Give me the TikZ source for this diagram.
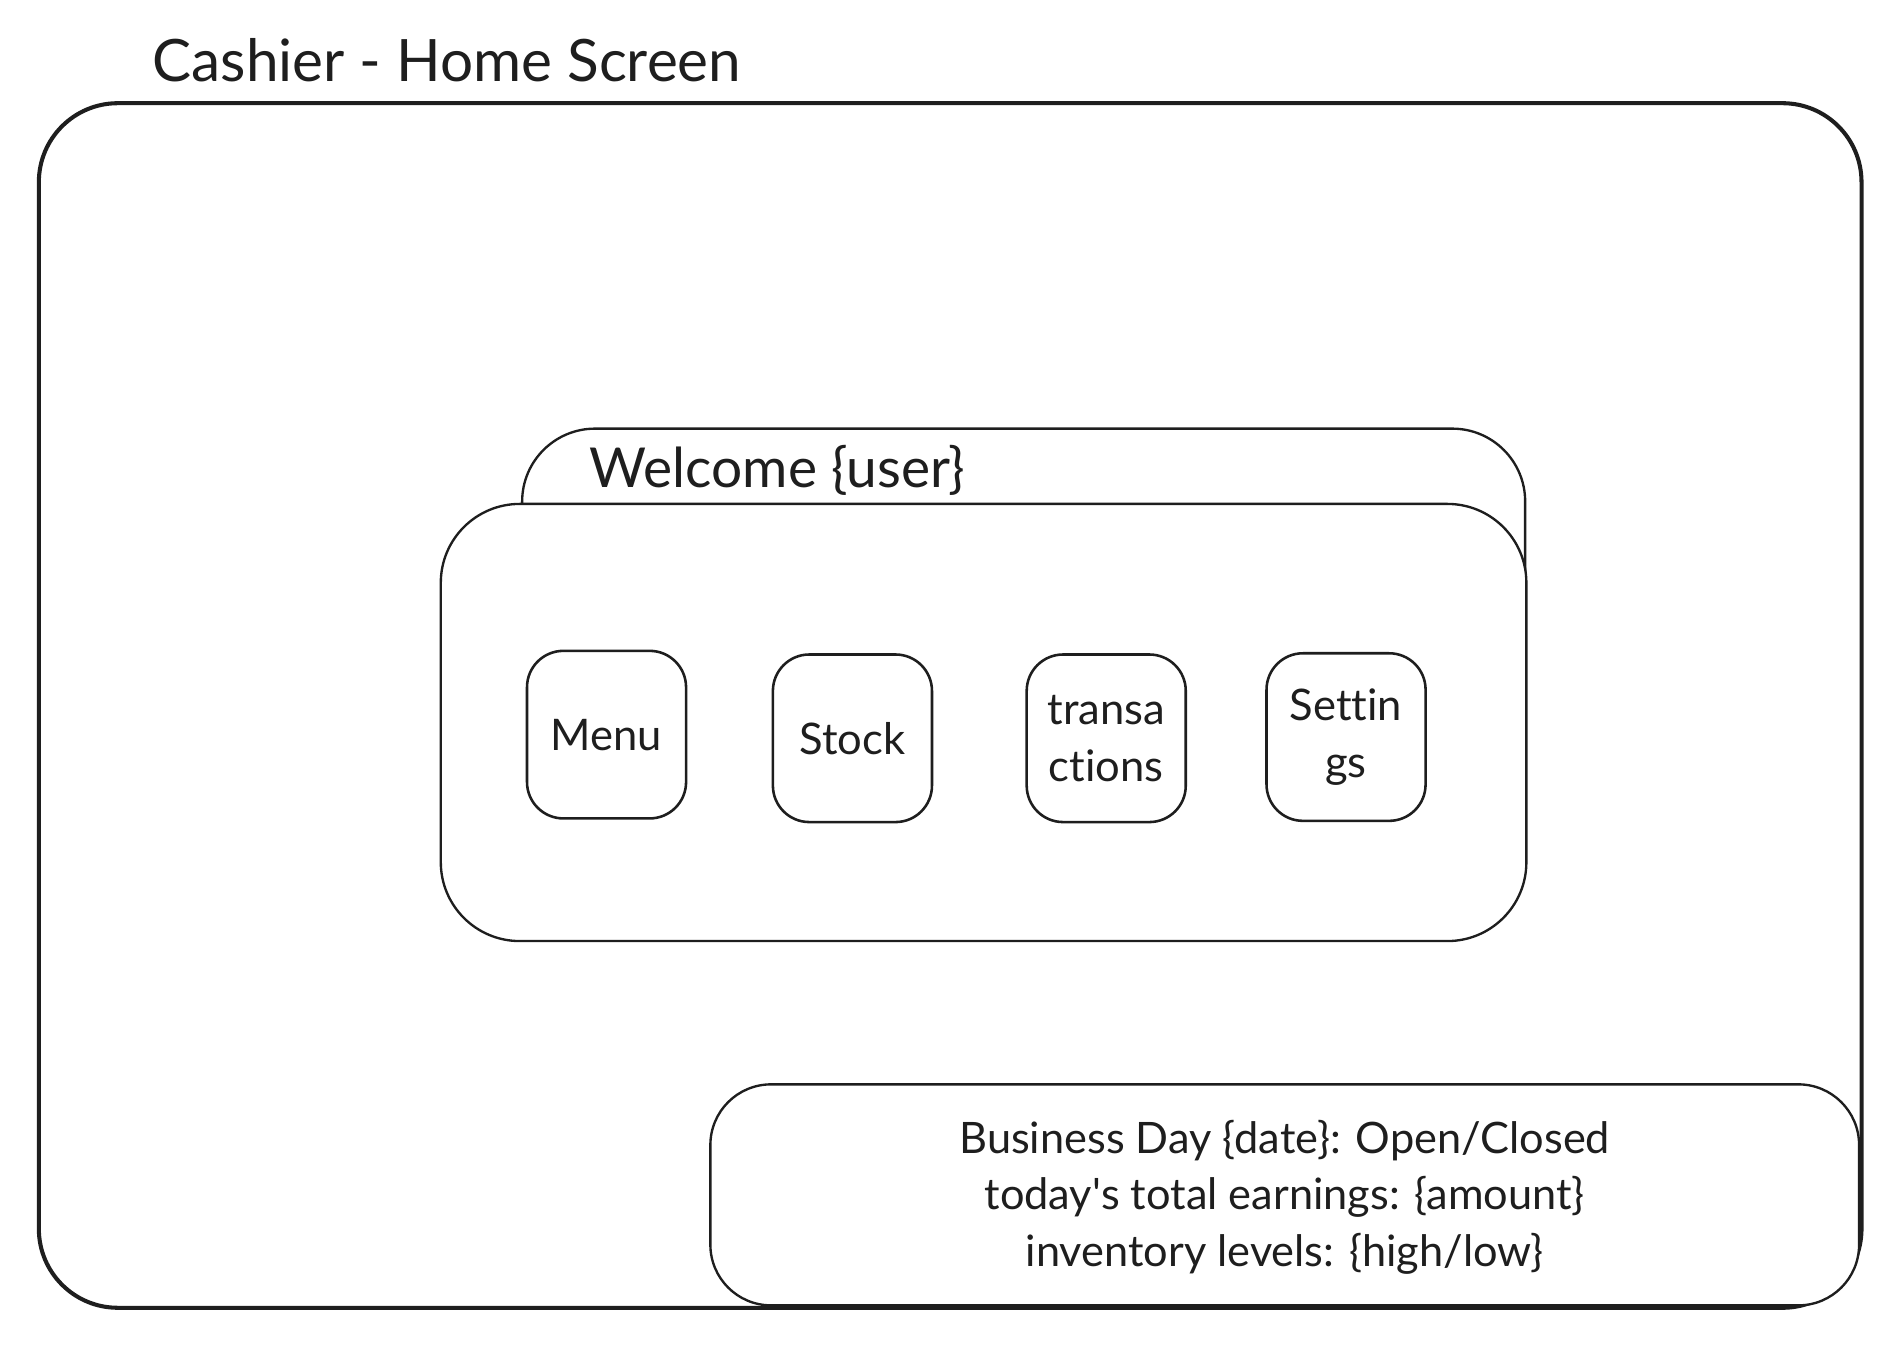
\documentclass[tikz,border=0pt]{standalone}
\usepackage{fontspec}
\setmainfont{Lato}[Ligatures={NoCommon}]
\usepackage{tikz}
\usepackage{xcolor}

\begin{document}
\begin{tikzpicture}[
    btn/.style={draw=ink, line width=0.6pt, rounded corners=0.3cm,
        minimum width=1.31cm, minimum height=1.38cm, inner sep=0pt,
        align=center, text=ink, font=\fontsize{10.2}{13.3}\selectfont},
    panel/.style={draw=ink, line width=0.55pt, fill=white}
]
    % Define a soft black for lines and text
    \definecolor{ink}{HTML}{1E1E1E}

    % Fix the page size
    \useasboundingbox (0,0) rectangle (15.68,11.20);

    % Title above the screen
    \node[anchor=west, inner sep=0pt, text=ink, font=\fontsize{13.7}{16}\selectfont] (title) at (1.25,10.70) {Cashier - Home Screen};

    % Outer screen frame
    \draw[draw=ink, line width=0.95pt, rounded corners=0.65cm] (0.32,10.35) rectangle (15.33,0.43);

    % Welcome tab behind the main panel
    \draw[panel, rounded corners=0.6cm] (4.30,7.67) rectangle (12.56,5.80);
    \node[anchor=west, inner sep=0pt, text=ink, font=\fontsize{12.9}{15}\selectfont] (welcome) at (4.85,7.33) {Welcome \{user\}};

    % Main panel holding the buttons
    \draw[panel, rounded corners=0.65cm] (3.63,7.05) rectangle (12.57,3.45);

    % Buttons
    \node[btn] (menu) at (4.995,5.15) {Menu};
    \node[btn] (stock) at (7.02,5.12) {Stock};
    \node[btn] (trans) at (9.11,5.12) {transa\\ctions};
    \node[btn] (settings) at (11.085,5.13) {Settin\\gs};

    % Status box at the bottom right
    \draw[panel, rounded corners=0.5cm] (5.85,2.27) rectangle (15.31,0.45);
    \node[align=center, text=ink, font=\fontsize{10.15}{13.2}\selectfont] (status) at (10.58,1.34)
        {Business Day \{date\}: Open/Closed\\today\textquotesingle s total earnings: \{amount\}\\inventory levels: \{high/low\}};

\end{tikzpicture}
\end{document}
